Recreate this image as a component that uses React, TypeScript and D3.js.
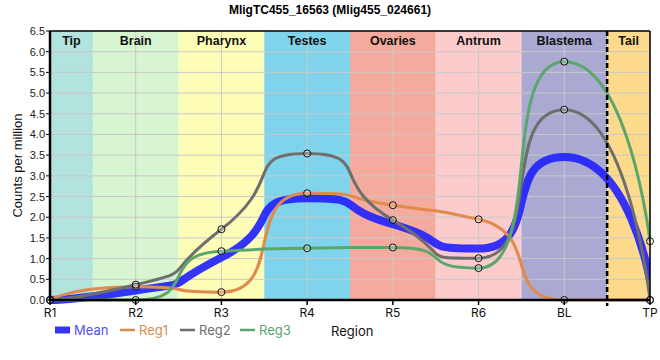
import React from "react";
import * as d3 from "d3";

const regions = ["R1", "R2", "R3", "R4", "R5", "R6", "BL", "TP"];
const reg1 = [0, 0.32, 0.19, 2.58, 2.29, 1.95, 0, 0];
const reg2 = [0, 0.37, 1.71, 3.54, 1.93, 1.01, 4.6, 0];
const reg3 = [0, 0, 1.18, 1.25, 1.27, 0.77, 5.76, 1.42];
const meanVals = reg1.map((v, i) => (v + reg2[i] + reg3[i]) / 3);
const yTicks = d3.range(0, 6.51, 0.5);
const bandNames = ["Tip", "Brain", "Pharynx", "Testes", "Ovaries", "Antrum", "Blastema", "Tail"];
const bandStarts = [0, 0.5, 1.5, 2.5, 3.5, 4.5, 5.5, 6.5];
const bandEnds = [0.5, 1.5, 2.5, 3.5, 4.5, 5.5, 6.5, 7];
const bandColors = ["#b3e3dd", "#d7f5d0", "#fdfdb7", "#7fd4eb", "#f4aa9c", "#fccbcc", "#a9a9d1", "#fdda8c"];
const seriesNames = ["Reg1", "Reg2", "Reg3"];
const seriesColors = ["#e08a4c", "#6e6e6e", "#5aa66b"];
const meanColor = "#2424ff";

const W = 660, H = 360;
const L = 50, R = 650, T = 31, B = 300;

type P = { x: number; y: number };

function controlPoints(p0: P, p1: P, p2: P | undefined, alpha: number) {
  if (!p2) return [p1.x, p1.y, p1.x, p1.y];
  let l1x = (1 - alpha) * p1.x + alpha * p0.x;
  let l1y = (1 - alpha) * p1.y + alpha * p0.y;
  let r1x = (1 - alpha) * p1.x + alpha * p2.x;
  let r1y = (1 - alpha) * p1.y + alpha * p2.y;
  if (l1x !== r1x) {
    const dy = p1.y - r1y - ((p1.x - r1x) * (l1y - r1y)) / (l1x - r1x);
    l1y += dy;
    r1y += dy;
  }
  if (l1y > p0.y && l1y > p1.y) {
    l1y = Math.max(p0.y, p1.y);
    r1y = 2 * p1.y - l1y;
  } else if (l1y < p0.y && l1y < p1.y) {
    l1y = Math.min(p0.y, p1.y);
    r1y = 2 * p1.y - l1y;
  }
  if (r1y > p2.y && r1y > p1.y) {
    r1y = Math.max(p1.y, p2.y);
    l1y = 2 * p1.y - r1y;
  } else if (r1y < p2.y && r1y < p1.y) {
    r1y = Math.min(p1.y, p2.y);
    l1y = 2 * p1.y - r1y;
  }
  return [l1x, l1y, r1x, r1y];
}

function curveSmooth(alpha: number) {
  return (context: any) => {
    let pts: P[] = [];
    return {
      areaStart() {},
      areaEnd() {},
      lineStart() {
        pts = [];
      },
      point(x: number, y: number) {
        pts.push({ x: +x, y: +y });
      },
      lineEnd() {
        if (!pts.length) return;
        context.moveTo(pts[0].x, pts[0].y);
        let lx = pts[0].x, ly = pts[0].y;
        for (let i = 1; i < pts.length; i++) {
          const c = controlPoints(pts[i - 1], pts[i], pts[i + 1], alpha);
          context.bezierCurveTo(lx, ly, c[0], c[1], pts[i].x, pts[i].y);
          lx = c[2];
          ly = c[3];
        }
      },
    };
  };
}

export default function App() {
  const x = d3.scaleLinear().domain([0, 7]).range([L, R]);
  const y = d3.scaleLinear().domain([0, 6.5]).range([B, T]);
  const line = d3
    .line<number>()
    .x((_, i) => x(i))
    .y((d) => y(d))
    .curve(curveSmooth(0.75) as any);
  const series = [reg1, reg2, reg3];
  const sans = "Liberation Sans, Arial, sans-serif";
  const inter = "Inter, Roboto, sans-serif";
  return (
    <svg width={W} height={H} style={{ position: "absolute", left: 0, top: 0 }}>
      <defs>
        <clipPath id="plotClip">
          <rect x={L - 6} y={T} width={R - L + 6} height={B - T + 6} />
        </clipPath>
      </defs>
      <rect x={0} y={0} width={W} height={H} fill="#fff" />
      <text x={330} y={14} textAnchor="middle" fontFamily={sans} fontWeight="bold" fontSize={12}>
        MligTC455_16563 (Mlig455_024661)
      </text>
      {bandNames.map((n, i) => (
        <rect key={n} x={x(bandStarts[i])} y={T} width={x(bandEnds[i]) - x(bandStarts[i])} height={B - T} fill={bandColors[i]} />
      ))}
      {yTicks.map((t) => (
        <line key={"gy" + t} x1={L} x2={R} y1={y(t)} y2={y(t)} stroke="#c9c9c9" strokeWidth={1} />
      ))}
      {regions.map((r, i) => (
        <line key={"gx" + r} x1={x(i)} x2={x(i)} y1={T} y2={B} stroke="#c9c9c9" strokeWidth={1} />
      ))}
      {bandNames.map((n, i) => (
        <text key={"bl" + n} x={(x(bandStarts[i]) + x(bandEnds[i])) / 2} y={45} textAnchor="middle" fontFamily={sans} fontWeight="bold" fontSize={12.5} fill="#111">
          {n}
        </text>
      ))}
      <g clipPath="url(#plotClip)">
        <path d={line(meanVals) || ""} fill="none" stroke={meanColor} strokeOpacity={0.92} strokeWidth={8} />
        {series.map((s, k) => (
          <path key={"s" + k} d={line(s) || ""} fill="none" stroke={seriesColors[k]} strokeWidth={3} />
        ))}
      </g>
      {series.map((s, k) =>
        s.map((v, i) => (
          <circle key={"c" + k + "-" + i} cx={x(i)} cy={y(v)} r={3.5} fill="rgba(255,255,255,0.25)" stroke="#111" strokeWidth={1} />
        ))
      )}
      <line x1={x(6.5)} x2={x(6.5)} y1={T} y2={B + 6} stroke="#000" strokeWidth={2.5} strokeDasharray="5,3" />
      <line x1={L} x2={R} y1={T} y2={T} stroke="#000" strokeWidth={1.5} />
      <line x1={R} x2={R} y1={T} y2={B} stroke="#000" strokeWidth={1.5} />
      <line x1={L} x2={L} y1={T} y2={B + 1} stroke="#000" strokeWidth={2.5} />
      <line x1={L - 1} x2={R} y1={B} y2={B} stroke="#000" strokeWidth={2.5} />
      {yTicks.map((t) => (
        <g key={"yt" + t}>
          <line x1={L - 4} x2={L} y1={y(t)} y2={y(t)} stroke="#000" strokeWidth={1} />
          <text x={L - 5} y={y(t) + 4} textAnchor="end" fontFamily={sans} fontSize={11} fill="#222">
            {t.toFixed(1)}
          </text>
        </g>
      ))}
      {regions.map((r, i) => (
        <g key={"xt" + r}>
          <line x1={x(i)} x2={x(i)} y1={B} y2={B + 5} stroke="#000" strokeWidth={1.5} />
          <text x={x(i)} y={317} textAnchor="middle" fontFamily={inter} fontSize={12} fill="#111">
            {r}
          </text>
        </g>
      ))}
      <text transform={`translate(22,${(T + B) / 2}) rotate(-90)`} textAnchor="middle" fontFamily={sans} fontSize={13} fill="#111">
        Counts per million
      </text>
      <rect x={55} y={326.5} width={15} height={7} fill={meanColor} fillOpacity={0.92} />
      <text x={74} y={335} fontFamily={inter} fontSize={13} fill="#5050ff">Mean</text>
      {seriesNames.map((n, k) => (
        <g key={"lg" + n}>
          <line x1={120 + k * 60} x2={135 + k * 60} y1={330} y2={330} stroke={seriesColors[k]} strokeWidth={2.5} />
          <text x={139 + k * 60} y={335} fontFamily={inter} fontSize={13} fill={seriesColors[k]}>{n}</text>
        </g>
      ))}
      <text x={331} y={336} fontFamily={inter} fontSize={13} fill="#111">Region</text>
    </svg>
  );
}
